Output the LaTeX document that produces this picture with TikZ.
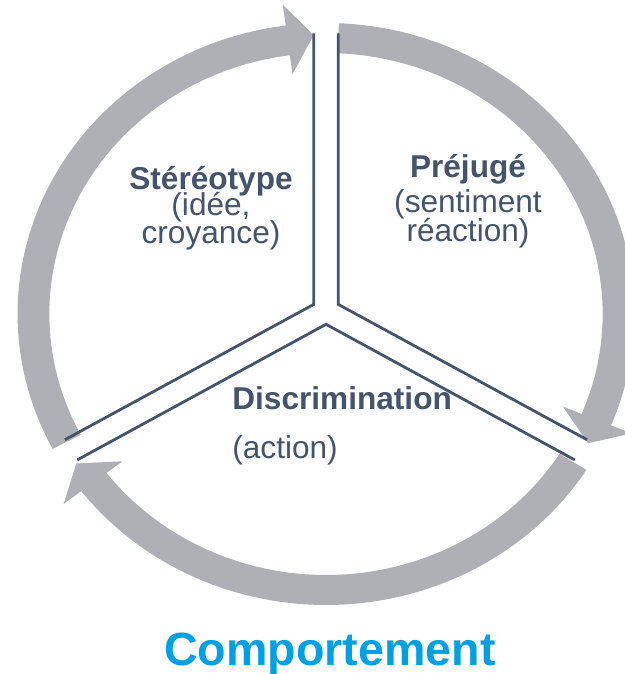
\documentclass[tikz,border=0pt]{standalone}
\usepackage{fontspec}
\setmainfont{Liberation Sans}
\usepackage{tikz}
\usetikzlibrary{positioning}

\definecolor{cyclegray}{RGB}{174,176,181}
\definecolor{slate}{RGB}{68,84,106}
\definecolor{behblue}{RGB}{0,160,227}
\newcommand{\tightlines}{\setlength{\lineskiplimit}{-20pt}}

\begin{document}
\begin{tikzpicture}[x=0.5pt, y=0.5pt,
    band/.style={fill=cyclegray, draw=none},
    divider/.style={draw=slate, line width=1.4pt, line join=miter},
    heading/.style={font=\fontsize{15.8}{14}\selectfont\tightlines, text=slate, inner sep=0pt, align=center}]
            % Define frame
            \useasboundingbox (-326,-360) rectangle (299,314);

            % Define arrows
            \begin{scope}[xscale=1.06]
            % Stereotype -> Prejuge
            \fill [band] (207.6:291) arc[start angle=207.6, end angle=97.5, radius=291] -- (97.5:312) -- (92.4:279) -- (97.5:242) -- (97.5:261) arc[start angle=97.5, end angle=207.6, radius=261] -- cycle;
            % Prejuge -> Discrimination
            \fill [band] (87.6:291) arc[start angle=87.6, end angle=-22.5, radius=291] -- (-22.5:312) -- (-27.6:279) -- (-22.5:242) -- (-22.5:261) arc[start angle=-22.5, end angle=87.6, radius=261] -- cycle;
            % Discrimination -> Stereotype
            \fill [band] (-32.4:291) arc[start angle=-32.4, end angle=-142.5, radius=291] -- (-142.5:312) -- (-147.6:279) -- (-142.5:242) -- (-142.5:261) arc[start angle=-142.5, end angle=-32.4, radius=261] -- cycle;

            % Define dividers
            \begin{scope}[shift={(0,3)}]
            \draw [divider, rotate=90] (2.4:278) -- (60:13.3) -- (117.6:278);
            \draw [divider, rotate=210] (2.4:278) -- (60:13.3) -- (117.6:278);
            \draw [divider, rotate=330] (2.4:278) -- (60:13.3) -- (117.6:278);
            \end{scope}
            \end{scope}

            % Define texts
            \node [heading, anchor=base] (stereo) at (-115,70) {\textbf{Stéréotype}\\[-1pt](idée,\\croyance)};
            \node [heading, anchor=base] (prejuge) at (142,72) {\textbf{Préjugé}\\[3.5pt](sentiment\\[0.5pt]réaction)};
            \node [heading, anchor=base west] (discrim) at (-94,-96) {\textbf{Discrimination}};
            \node [heading, anchor=base west] (action) at (-94,-144) {(action)};
            \node [font=\fontsize{23.3}{26}\selectfont\bfseries, text=behblue, inner sep=0pt, anchor=base] (comport) at (4,-351) {Comportement};
        \end{tikzpicture}
\end{document}
